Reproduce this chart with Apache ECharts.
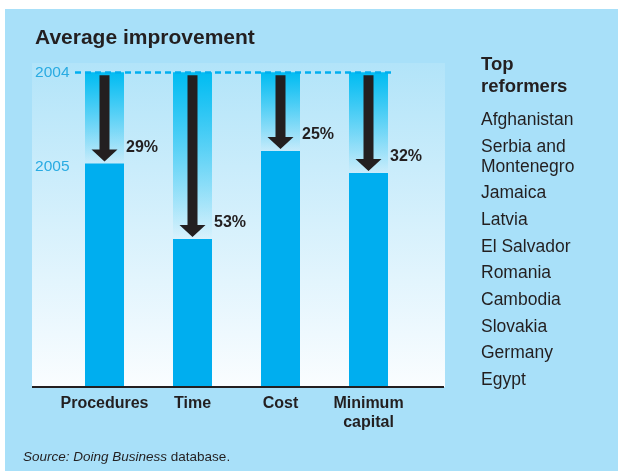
<!DOCTYPE html>
<html>
<head>
<meta charset="utf-8">
<title>Average improvement</title>
<script src="https://cdn.jsdelivr.net/npm/echarts@6/dist/echarts.min.js"></script>
<style>
  html, body { margin: 0; padding: 0; background: #fff; }
  #chart { width: 618px; height: 471px; }
</style>
</head>
<body>
<div id="chart"></div>
<script>
  // values, 2004 level = 100
  const categories = ['Procedures', 'Time', 'Cost', 'Minimum\ncapital']
  const level2005 = [71, 47, 75, 68]
  const improvement = [29, 53, 25, 32]
  const yearLabels = ['2004', '2005']
  const yearLevels = [100, 70]
  const reformers = ['Afghanistan', 'Serbia and\nMontenegro', 'Jamaica', 'Latvia', 'El Salvador',
    'Romania', 'Cambodia', 'Slovakia', 'Germany', 'Egypt']

  const ink = '#231f20'
  const cyan = '#00aeef'
  const font = '"Liberation Sans", Arial, sans-serif'

  // gradient column from 2004 down to the 2005 bar, the arrow and the % label
  function renderDrop(params, api) {
    const i = api.value(0)
    const top = api.coord([i, 100])
    const bot = api.coord([i, api.value(1)])
    const half = 19.5
    const cx = top[0]
    const tip = bot[1] - 2
    const headY = tip - 12
    return {
      type: 'group',
      children: [
        {
          type: 'rect',
          shape: { x: cx - half, y: top[1], width: half * 2, height: bot[1] - top[1] },
          style: {
            fill: new echarts.graphic.LinearGradient(0, 0, 0, 1, [
              { offset: 0, color: 'rgba(0,188,242,1)' },
              { offset: 1, color: 'rgba(0,188,242,0)' }
            ])
          }
        },
        {
          type: 'polygon',
          shape: {
            points: [[cx - 5, top[1] + 3], [cx + 5, top[1] + 3], [cx + 5, headY], [cx + 13, headY],
              [cx, tip], [cx - 13, headY], [cx - 5, headY]]
          },
          style: { fill: ink }
        },
        {
          type: 'text',
          x: cx + half + 2,
          y: bot[1] - 16,
          style: {
            text: api.value(2) + '%',
            font: 'bold 16px ' + font,
            fill: ink,
            align: 'left',
            verticalAlign: 'middle'
          }
        }
      ]
    }
  }

  // right-hand list of top reformers
  const listItems = []
  let yCursor = 110
  reformers.forEach(name => {
    listItems.push({
      type: 'text', x: 481, y: yCursor, z: 5,
      style: { text: name, font: '17.5px ' + font, fill: ink, lineHeight: 20, verticalAlign: 'top' }
    })
    yCursor += 26.7 + (name.split('\n').length - 1) * 20
  })

  const chart = echarts.init(document.getElementById('chart'))
  chart.setOption({
    animation: false,
    grid: { left: 60.5, width: 352, top: 72.3, bottom: 84.3 },
    graphic: [
      { type: 'rect', z: 0, shape: { x: 5, y: 9, width: 613, height: 462 }, style: { fill: '#a8e0f9' } },
      {
        type: 'rect', z: 1, shape: { x: 32, y: 63, width: 413, height: 324 },
        style: {
          fill: new echarts.graphic.LinearGradient(0, 0, 0, 1, [
            { offset: 0, color: '#b2e4f9' },
            { offset: 1, color: '#fafdff' }
          ])
        }
      },
      {
        type: 'text', x: 35, y: 38, z: 5,
        style: { text: 'Average improvement', font: 'bold 21px ' + font, fill: ink, verticalAlign: 'middle' }
      },
      {
        type: 'text', x: 481, y: 54, z: 5,
        style: { text: 'Top\nreformers', font: 'bold 18.5px ' + font, fill: ink, lineHeight: 21.7, verticalAlign: 'top' }
      },
      {
        type: 'text', x: 23, y: 457, z: 5,
        style: {
          text: '{i|Source: Doing Business} database.',
          font: '13.5px ' + font,
          fill: ink,
          verticalAlign: 'middle',
          rich: { i: { fontStyle: 'italic', fontSize: 13.5, fontFamily: font, fill: ink } }
        }
      }
    ].concat(listItems),
    xAxis: {
      type: 'category',
      data: categories,
      z: 10,
      axisLine: { show: false },
      axisTick: { show: false },
      axisLabel: {
        interval: 0,
        margin: 7,
        color: ink,
        fontWeight: 'bold',
        fontSize: 16,
        lineHeight: 19,
        fontFamily: font
      }
    },
    yAxis: {
      type: 'value',
      min: 0,
      max: 100,
      z: 10,
      splitLine: { show: false },
      axisLine: { show: false },
      axisTick: { show: false },
      axisLabel: {
        customValues: yearLevels,
        formatter: v => yearLabels[yearLevels.indexOf(v)],
        margin: -9,
        color: '#29abe2',
        fontSize: 15.5,
        fontFamily: font
      }
    },
    series: [
      {
        type: 'bar',
        data: level2005,
        barWidth: 39,
        itemStyle: { color: cyan },
        z: 3,
        markLine: {
          silent: true,
          symbol: 'none',
          label: { show: false },
          lineStyle: { color: cyan, width: 2.5, type: [6, 4] },
          data: [[{ x: 75, yAxis: 100 }, { x: 392, yAxis: 100 }]]
        }
      },
      {
        type: 'custom',
        renderItem: renderDrop,
        data: level2005.map((v, i) => [i, v, improvement[i]]),
        encode: { x: 0, y: 1 },
        z: 4,
        markLine: {
          silent: true,
          symbol: 'none',
          label: { show: false },
          lineStyle: { color: ink, width: 2, type: 'solid' },
          data: [[{ x: 32, yAxis: 0 }, { x: 444, yAxis: 0 }]]
        }
      }
    ]
  })
</script>
</body>
</html>
